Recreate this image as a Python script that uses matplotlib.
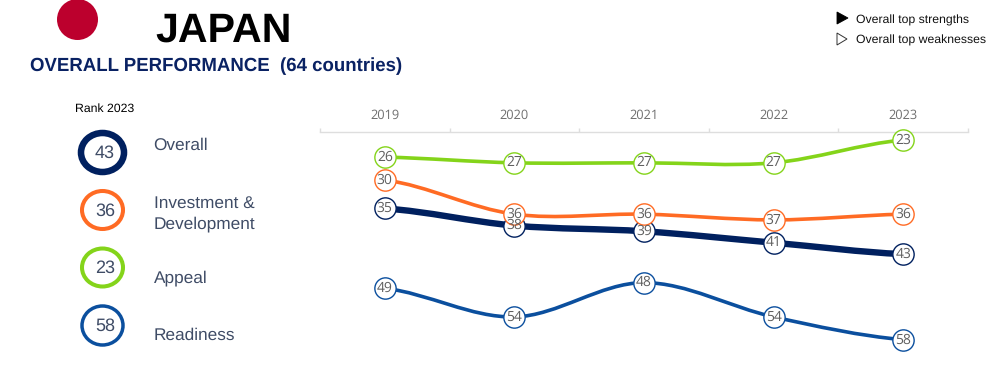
import matplotlib
matplotlib.use('Agg')
import matplotlib.pyplot as plt
from matplotlib.patches import Circle, Ellipse, PathPatch, Polygon, Rectangle
from matplotlib.path import Path

years = ['2019', '2020', '2021', '2022', '2023']
overall = [35, 38, 39, 41, 43]
investment = [30, 36, 36, 37, 36]
appeal = [26, 27, 27, 27, 23]
readiness = [49, 54, 48, 54, 58]

names = ['Overall', 'Investment &\nDevelopment', 'Appeal', 'Readiness']
ranks = [43, 36, 23, 58]

navy = '#00205f'
orange = '#ff6b24'
green = '#84d41a'
blue = '#0b4f9e'
grey = '#5f5f5f'
slate = '#3f4c66'
W, H = 1001, 382

plt.rcParams['font.family'] = ['Liberation Sans', 'DejaVu Sans']
plt.rcParams['text.hinting'] = 'no_hinting'

fig = plt.figure(figsize=(W / 100, H / 100), dpi=100)

# whole figure in pixels, for the header and the left column
bg = fig.add_axes([0, 0, 1, 1])
bg.set_xlim(0, W)
bg.set_ylim(H, 0)
bg.axis('off')

bg.add_patch(Circle((77.5, 19.5), 20.5, fc='#bc002d', ec='none'))
bg.text(155.5, 42, 'JAPAN', fontsize=29.6, fontweight='bold', color='black', va='baseline')
bg.text(30, 71, 'OVERALL PERFORMANCE  (64 countries)', fontsize=13.4, fontweight='bold',
        color='#0a2263', va='baseline')
bg.text(75, 112, 'Rank 2023', fontsize=8.85, color='black', va='baseline')

# legend top right
bg.add_patch(Polygon([(837, 12), (837, 24), (848, 18)], fc='black', ec='black', lw=0.6))
bg.add_patch(Polygon([(837, 33), (837, 45), (847, 39)], fc='white', ec='#333333', lw=0.7))
bg.text(856, 23.5, 'Overall top strengths', fontsize=8.85, color='#111111', va='baseline')
t = bg.text(856, 44, 'Overall top weaknesses', fontsize=8.85, color='#111111', va='baseline')
t.set_clip_path(Rectangle((850, 30), 136, 20, transform=bg.transData))
t.set_clip_on(True)

# rank circles on the left
circle_y = [152.5, 210, 267.5, 325.5]
circle_w = [43, 41, 41, 41]
circle_h = [39, 38, 38, 39]
circle_lw = [4.7, 2.9, 2.9, 2.5]
circle_col = [navy, orange, green, blue]
number_y = [153, 210.7, 268, 326.5]
label_y = [149.5, 208, 282.5, 339.5]
label_y2 = 228.5
for i in range(4):
    bg.add_patch(Ellipse((102.5, circle_y[i]), circle_w[i], circle_h[i], fc='white', ec=circle_col[i],
                         lw=circle_lw[i]))
    bg.text(105, number_y[i], str(ranks[i]), fontsize=13, color=slate, ha='center', va='center')
    if '\n' in names[i]:
        a, b = names[i].split('\n')
        bg.text(153.5, label_y[i], a, fontsize=12.4, color=slate, va='baseline')
        bg.text(153.5, label_y2, b, fontsize=12.4, color=slate, va='baseline')
    else:
        bg.text(153.5, label_y[i], names[i], fontsize=12.4, color=slate, va='baseline')

# line chart, x axis line on top, rank grows downward
ax = fig.add_axes([320 / W, 1 - 350 / H, 648 / W, 218 / H])
ax.patch.set_alpha(0)
ax.set_xlim(-0.5, 4.5)
ax.set_ylim(59.8, 21.6)
for s in ['left', 'right', 'bottom']:
    ax.spines[s].set_visible(False)
ax.spines['top'].set_color('#dedede')
ax.spines['top'].set_linewidth(1)
ax.xaxis.tick_top()
ax.set_xticks(range(5))
ax.set_xticklabels(years, fontsize=9.2, color='#6f6f6f', family=['Open Sans', 'DejaVu Sans'])
ax.tick_params(axis='x', which='major', length=0, pad=7.5)
ax.set_xticks([-0.5, 0.5, 1.5, 2.5, 3.5, 4.5], minor=True)
ax.tick_params(axis='x', which='minor', length=3, color='#dedede', direction='out', width=1)
ax.set_yticks([])


def smooth_line(vals, color, lw):
    # bezier through the points, like a smoothed office line
    verts = [(0, vals[0])]
    codes = [Path.MOVETO]
    n = len(vals)
    for i in range(n - 1):
        y0 = vals[max(i - 1, 0)]
        y1 = vals[i]
        y2 = vals[i + 1]
        y3 = vals[min(i + 2, n - 1)]
        verts.append((i + 1 / 3, y1 + (y2 - y0) / 6))
        verts.append((i + 2 / 3, y2 - (y3 - y1) / 6))
        verts.append((i + 1, y2))
        codes += [Path.CURVE4] * 3
    ax.add_patch(PathPatch(Path(verts, codes), fc='none', ec=color, lw=lw, capstyle='round', zorder=2))


def markers(vals, color):
    ax.scatter(range(5), vals, s=235, fc='white', ec=color, lw=1.0, zorder=3, clip_on=False)
    for i, v in enumerate(vals):
        ax.text(i, v, str(v), fontsize=10, color=grey, ha='center', va='center', zorder=5,
                family=['Open Sans', 'DejaVu Sans'])


smooth_line(overall, navy, 4.6)
smooth_line(readiness, blue, 2.6)
smooth_line(appeal, green, 2.6)
smooth_line(investment, orange, 2.6)
markers(overall, navy)
markers(readiness, blue)
markers(appeal, green)
markers(investment, orange)

fig.savefig('out.png', dpi=100)
